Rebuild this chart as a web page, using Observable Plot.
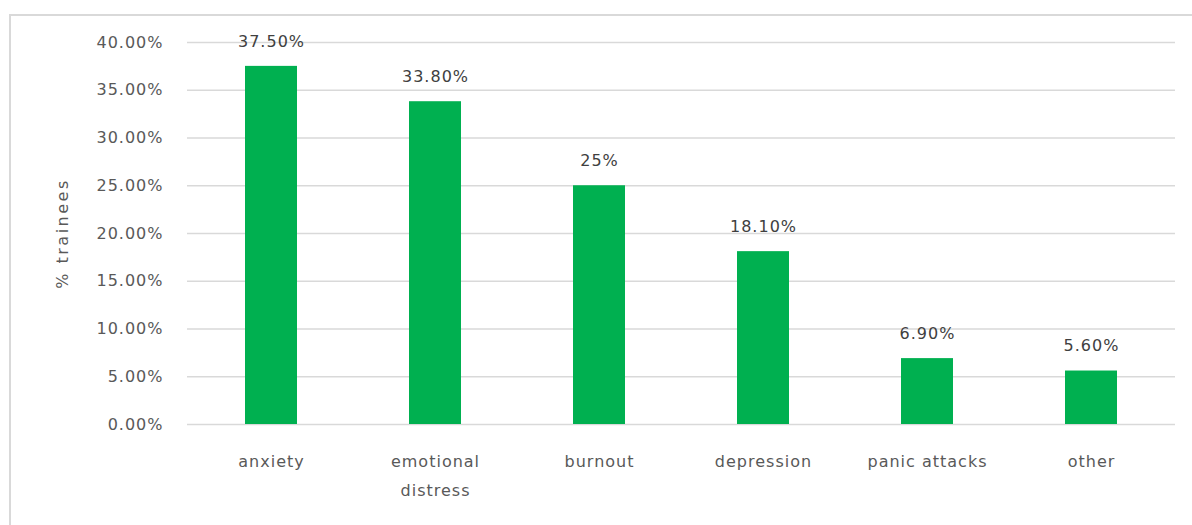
<!DOCTYPE html>
<html>
<head>
<meta charset="utf-8">
<script src="https://cdn.jsdelivr.net/npm/d3@7"></script>
<script src="https://cdn.jsdelivr.net/npm/@observablehq/plot@0.6"></script>
<style>
  html, body { margin: 0; padding: 0; background: #fff; }
  #wrap { position: relative; width: 1192px; height: 525px; overflow: hidden; }
  #border { position: absolute; left: 9px; top: 14px; width: 1200px; height: 600px;
            border: 2px solid #d9d9d9; box-sizing: border-box; }
  #chart { position: absolute; left: 0; top: 0; }
  #chart text { letter-spacing: 1px; }
  #chart .ytitle text { letter-spacing: 2.5px; }
</style>
</head>
<body>
<div id="wrap">
  <div id="border"></div>
  <div id="chart"></div>
</div>
<script>
// Reported conditions among trainees (share of respondents, %)
const categories = ["anxiety", "emotional distress", "burnout", "depression", "panic attacks", "other"];
const values = [37.5, 33.8, 25, 18.1, 6.9, 5.6];
const valueLabels = ["37.50%", "33.80%", "25%", "18.10%", "6.90%", "5.60%"];
const yTicks = [0, 5, 10, 15, 20, 25, 30, 35, 40];

const rows = categories.map((c, i) => ({category: c, value: values[i], label: valueLabels[i]}));

const grey = "#595959";

const chart = Plot.plot({
  width: 1192,
  height: 525,
  marginLeft: 187,
  marginRight: 17,
  marginTop: 42,
  marginBottom: 101,
  style: {fontFamily: "DejaVu Sans", fontSize: "16px", color: grey, background: "transparent"},
  x: {domain: categories, paddingInner: 0.68, paddingOuter: 0.34, label: null},
  y: {domain: [0, 40], ticks: yTicks, label: null},
  marks: [
    Plot.gridY(yTicks, {stroke: "#d9d9d9", strokeOpacity: 1, strokeWidth: 1.5}),
    Plot.barY(rows, {x: "category", y: "value", fill: "#00B050"}),
    Plot.text(rows, {x: "category", y: "value", text: "label", dy: -25, lineAnchor: "middle",
                     fill: "#404040", fontSize: 16}),
    Plot.axisY(yTicks, {tickSize: 0, tickPadding: 24, tickFormat: d => d.toFixed(2) + "%",
                        fill: grey, fontSize: 16, label: null}),
    Plot.axisX({tickSize: 0, tickPadding: 22, lineWidth: 8, lineHeight: 1.8,
                fill: grey, fontSize: 16, label: null}),
    Plot.text(["% trainees"], {frameAnchor: "left", dx: -125, rotate: -90, fill: grey,
                               fontSize: 16, textAnchor: "middle", lineAnchor: "middle",
                               className: "ytitle"})
  ]
});

document.getElementById("chart").appendChild(chart);
</script>
</body>
</html>
